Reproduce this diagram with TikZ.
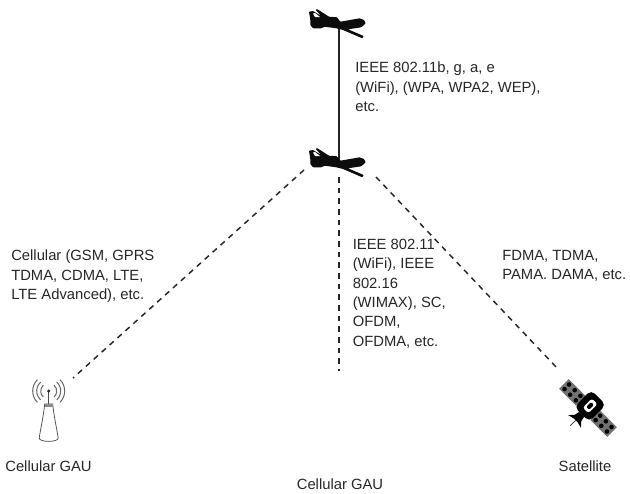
\documentclass[tikz,border=0pt]{standalone}
\usepackage{fontspec}
\setmainfont{Liberation Sans}
\tikzset{
  x=0.75pt,y=-0.75pt,
  lbl/.style={inner sep=0pt,anchor=north west,align=left,font=\fontsize{11.1pt}{14.5pt}\selectfont,text=black!85},
  caption/.style={inner sep=0pt,anchor=center,font=\fontsize{11.1pt}{13pt}\selectfont,text=black!85},
  link/.style={line width=1.1pt,black!85},
  dlink/.style={link,dash pattern=on 4.2pt off 3.8pt},
  pics/drone/.style={code={
    \fill[black!95,rounded corners=0.5pt] (-30,-13.3)--(-26,-14)--(-17.7,-9)--(-23.3,-15)--(-22,-16)--(-10,-8.3)--(-2,-7.7)--(1.3,-3.3)--(20.7,-6.7)--(25,-5)--(26.7,-1.7)--(22.3,2.3)--(9,4.3)--(24.7,11)--(23.3,13.3)--(4,5)--(-2.7,3.3)--(-14.3,1.7)--(-17.7,3.3)--(-26,3.3)--(-28.7,0)--(-28.7,-5)--cycle;
    \fill[white] (-26,-11.5)--(-24,-12)--(-19,-8)--(-24,-8)--cycle;
  }},
  pics/tower/.style={code={
    \draw[black!70,line width=0.55pt,fill=white] (-4,-3) .. controls (-5,8) and (-8.5,24) .. (-9.5,31) .. controls (-9.5,35.5) and (9.5,35.5) .. (9.5,31) .. controls (8.5,24) and (5,8) .. (4,-3) -- cycle;
    \fill[black!45] (-4,-3) rectangle (4,-0.5);
    \draw[black!70,line width=0.6pt] (0,-16)--(0,-3);
    \fill[black!85] (0,-16) circle (1.7);
    \foreach \r/\a in {8/48,12/48,16/45}{
      \draw[black!60,line width=0.75pt] ({\r*cos(\a)},{-16-\r*sin(\a)}) arc[start angle=-\a,end angle=\a,radius=\r];
      \draw[black!60,line width=0.75pt] ({-\r*cos(\a)},{-16-\r*sin(\a)}) arc[start angle=180+\a,end angle=180-\a,radius=\r];
    }
  }},
  pics/sat/.style={code={
    \begin{scope}[rotate=-45]
      \fill[black!55] (-34,-6.8) rectangle (-10,6.8);
      \fill[black!55] (10,-6.8) rectangle (34,6.8);
      \foreach \x in {-30,-22,-14,14,22,30} \foreach \y in {-3.2,3.2} \fill[black] (\x,\y) circle (2.3);
      \fill[black,rounded corners=4pt] (-10.5,-15) rectangle (10.5,9);
      \fill[white,rounded corners=2pt] (-4,-9.5) rectangle (4,3.5);
      \fill[black,rounded corners=1pt] (-2,-6.5) rectangle (2,0.5);
      \fill[black] (-3.5,9)--(3.5,9)--(4.5,14)--(9,19)--(3,17.5)--(-3,17.5)--(-9,19)--(-4.5,14)--cycle;
      \draw[black!70,line width=0.6pt] (0,17)--(0,25);
    \end{scope}
  }}
}
\begin{document}
\begin{tikzpicture}
\useasboundingbox (0,0) rectangle (630,493);
\coordinate (topdrone) at (339,25);
\coordinate (middrone) at (339,164);
\coordinate (tower) at (48.7,407);
\coordinate (sat) at (588,408);
\coordinate (midend) at (339,371);
\coordinate (towerend) at (73,378);
\coordinate (satend) at (558,369);
\coordinate (midl) at (304,170);
\coordinate (midr) at (376,177);
\coordinate (midb) at (339,177);
\draw[link] (topdrone) -- (middrone);
\draw[dlink] (midl) -- (towerend);
\draw[dlink] (midb) -- (midend);
\draw[dlink] (midr) -- (satend);
\pic at (topdrone) {drone};
\pic at (middrone) {drone};
\pic at (tower) {tower};
\pic at (sat) {sat};
\node[lbl] (a) at (355,62) {IEEE 802.11b, g, a, e\\(WiFi), (WPA, WPA2, WEP),\\etc.};
\node[lbl] (b) at (11,250) {Cellular (GSM, GPRS\\TDMA, CDMA, LTE,\\LTE Advanced), etc.};
\node[lbl] (c) at (352.5,239) {IEEE 802.11\\(WiFi), IEEE\\802.16\\(WIMAX), SC,\\OFDM,\\OFDMA, etc.};
\node[lbl] (d) at (502,250) {FDMA, TDMA,\\PAMA. DAMA, etc.};
\node[caption] (e) at (48.5,466) {Cellular GAU};
\node[caption] (f) at (585,466) {Satellite};
\node[caption] (g) at (340,484) {Cellular GAU};
\end{tikzpicture}
\end{document}
